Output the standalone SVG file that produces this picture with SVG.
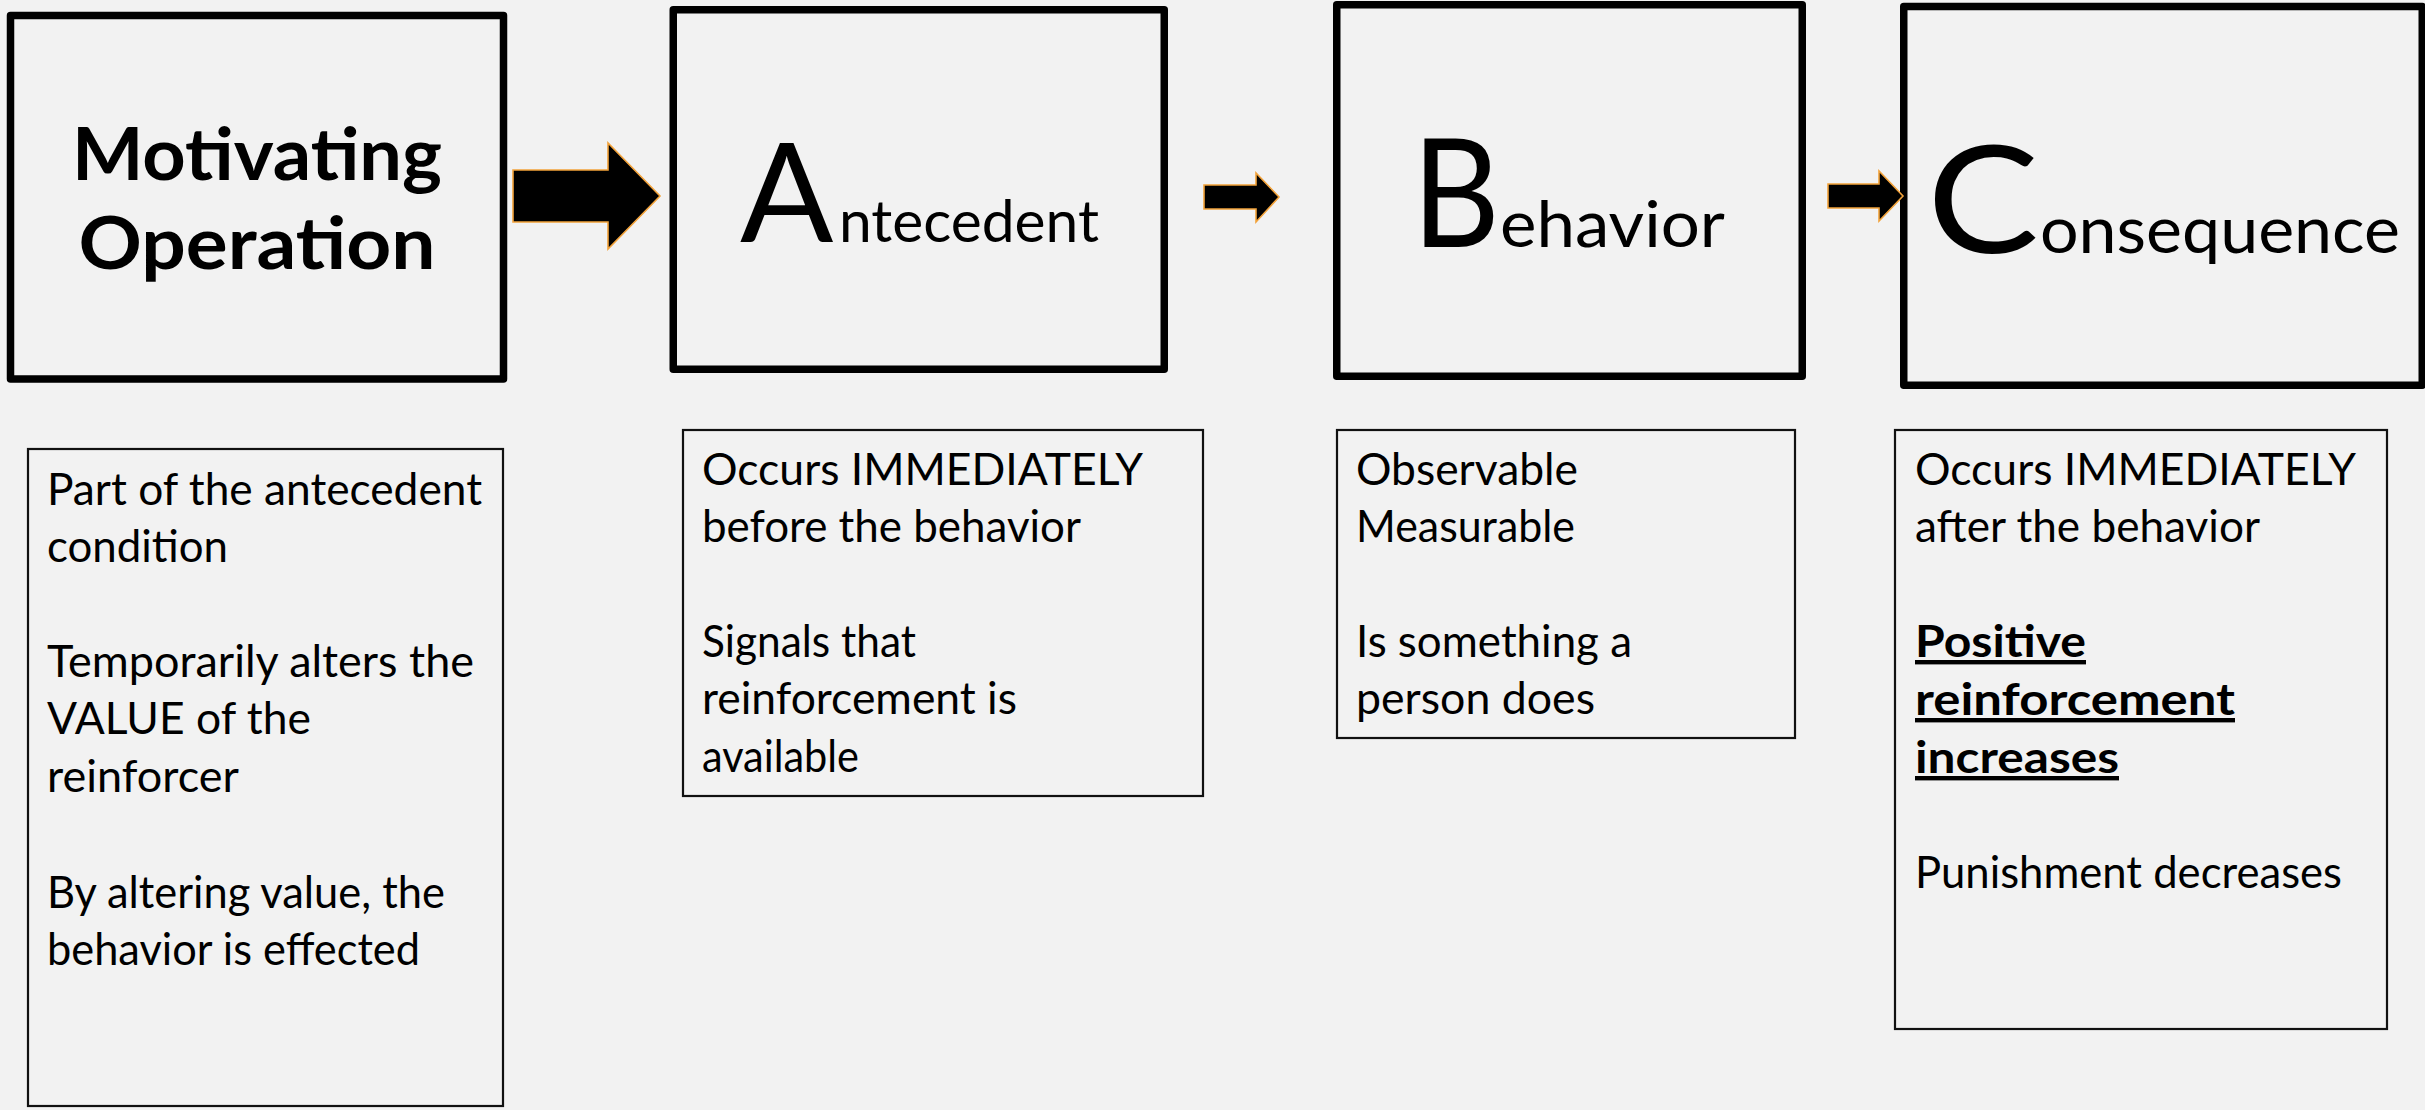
<svg xmlns="http://www.w3.org/2000/svg" width="2425" height="1110" viewBox="0 0 2425 1110">
<defs>
<style>
.bg{fill:#F2F2F2}
.hbox{fill:none;stroke:#000;stroke-width:7.5;stroke-linejoin:round}
.dbox{fill:none;stroke:#111;stroke-width:2.2}
.arrow{fill:#000;stroke:#F2A23A;stroke-width:1.6;stroke-linejoin:miter}
.t{font-family:Lato,"Liberation Sans",sans-serif;fill:#000}
.body{font-size:44px}
.bold{font-weight:700}
.ul{text-decoration:underline}
</style>
</defs>
<rect class="bg" x="0" y="0" width="2425" height="1110"/>

<g id="node-motivating-operation">
<rect class="hbox" x="10.5" y="15.5" width="493" height="363.5"/>
<text class="t bold" x="257" y="180" font-size="72" text-anchor="middle" textLength="370" lengthAdjust="spacingAndGlyphs">Motivating</text>
<text class="t bold" x="257" y="269" font-size="72" text-anchor="middle" textLength="357" lengthAdjust="spacingAndGlyphs">Operation</text>
</g>

<g id="node-antecedent">
<rect class="hbox" x="673.25" y="9.75" width="491" height="359.5"/>
<text class="t" x="740" y="242" font-size="138">A</text>
<text class="t" x="839" y="242" font-size="59" textLength="260" lengthAdjust="spacingAndGlyphs">ntecedent</text>
</g>

<g id="node-behavior">
<rect class="hbox" x="1336.75" y="4.75" width="465.5" height="371.5"/>
<text class="t" x="1412" y="247" font-size="152" textLength="88" lengthAdjust="spacingAndGlyphs">B</text>
<text class="t" x="1500" y="247" font-size="63" textLength="225" lengthAdjust="spacingAndGlyphs">ehavior</text>
</g>

<g id="node-consequence">
<rect class="hbox" x="1903.75" y="6.5" width="518.5" height="378.75"/>
<text class="t" x="1927" y="253" font-size="150" textLength="112" lengthAdjust="spacingAndGlyphs">C</text>
<text class="t" x="2040" y="253" font-size="66" textLength="360" lengthAdjust="spacingAndGlyphs">onsequence</text>
</g>

<g id="node-mo-details">
<rect class="dbox" x="28" y="449" width="475" height="657"/>
<text class="t body" x="47" y="505" textLength="435" lengthAdjust="spacingAndGlyphs">Part of the antecedent</text>
<text class="t body" x="47" y="562" textLength="181" lengthAdjust="spacingAndGlyphs">condition</text>
<text class="t body" x="47" y="677" textLength="427" lengthAdjust="spacingAndGlyphs">Temporarily alters the</text>
<text class="t body" x="47" y="734" textLength="264" lengthAdjust="spacingAndGlyphs">VALUE of the</text>
<text class="t body" x="47" y="792" textLength="192" lengthAdjust="spacingAndGlyphs">reinforcer</text>
<text class="t body" x="47" y="908" textLength="398" lengthAdjust="spacingAndGlyphs">By altering value, the</text>
<text class="t body" x="47" y="965" textLength="373" lengthAdjust="spacingAndGlyphs">behavior is effected</text>
</g>

<g id="node-antecedent-details">
<rect class="dbox" x="683" y="430" width="520" height="366"/>
<text class="t body" x="702" y="485" textLength="441" lengthAdjust="spacingAndGlyphs">Occurs IMMEDIATELY</text>
<text class="t body" x="702" y="542" textLength="379" lengthAdjust="spacingAndGlyphs">before the behavior</text>
<text class="t body" x="702" y="657" textLength="214" lengthAdjust="spacingAndGlyphs">Signals that</text>
<text class="t body" x="702" y="714" textLength="315" lengthAdjust="spacingAndGlyphs">reinforcement is</text>
<text class="t body" x="702" y="772" textLength="157" lengthAdjust="spacingAndGlyphs">available</text>
</g>

<g id="node-behavior-details">
<rect class="dbox" x="1337" y="430" width="458" height="308"/>
<text class="t body" x="1356" y="485" textLength="222" lengthAdjust="spacingAndGlyphs">Observable</text>
<text class="t body" x="1356" y="542" textLength="219" lengthAdjust="spacingAndGlyphs">Measurable</text>
<text class="t body" x="1356" y="657" textLength="276" lengthAdjust="spacingAndGlyphs">Is something a</text>
<text class="t body" x="1356" y="714" textLength="239" lengthAdjust="spacingAndGlyphs">person does</text>
</g>

<g id="node-consequence-details">
<rect class="dbox" x="1895" y="430" width="492" height="599"/>
<text class="t body" x="1915" y="485" textLength="441" lengthAdjust="spacingAndGlyphs">Occurs IMMEDIATELY</text>
<text class="t body" x="1915" y="542" textLength="345" lengthAdjust="spacingAndGlyphs">after the behavior</text>
<text class="t body bold ul" x="1915" y="657" textLength="171" lengthAdjust="spacingAndGlyphs">Positive</text>
<text class="t body bold ul" x="1915" y="715" textLength="320" lengthAdjust="spacingAndGlyphs">reinforcement</text>
<text class="t body bold ul" x="1915" y="773" textLength="204" lengthAdjust="spacingAndGlyphs">increases</text>
<text class="t body" x="1915" y="888" textLength="427" lengthAdjust="spacingAndGlyphs">Punishment decreases</text>
</g>

<g id="connectors">
<polygon class="arrow" points="513,170 608,170 608,143 660,196 608,249 608,222 513,222"/>
<polygon class="arrow" points="1204,185 1256,185 1256,173 1279,197 1256,222 1256,209 1204,209"/>
<polygon class="arrow" points="1828,184 1879,184 1879,171 1903,196 1879,221 1879,208 1828,208"/>
</g>
</svg>
